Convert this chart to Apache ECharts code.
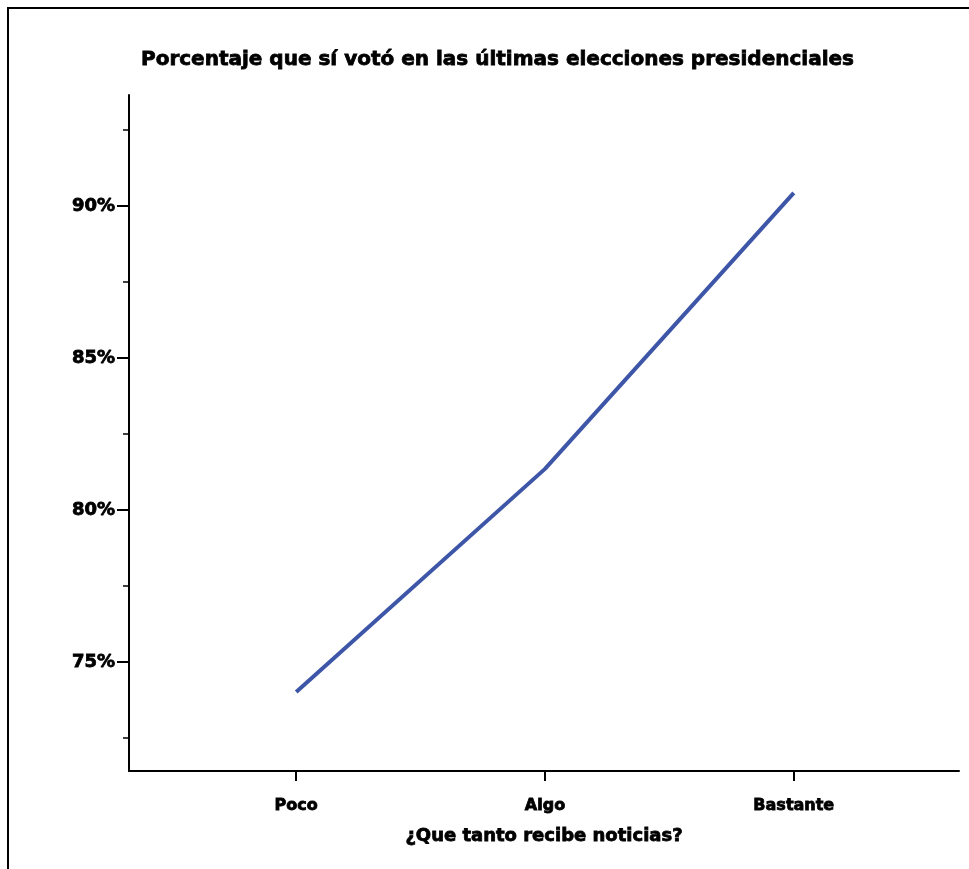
<!DOCTYPE html>
<html>
<head>
<meta charset="utf-8">
<script src="https://cdn.jsdelivr.net/npm/echarts@6/dist/echarts.min.js"></script>
<style>
html,body{margin:0;padding:0;background:#fff;}
#chart{width:969px;height:869px;}
</style>
</head>
<body>
<div id="chart"></div>
<script>
const titleText = 'Porcentaje que sí votó en las últimas elecciones presidenciales';
const xAxisTitle = '¿Que tanto recibe noticias?';
const categories = ['Poco', 'Algo', 'Bastante'];
const values = [74.01, 81.35, 90.43];
const yMajorTicks = [75, 80, 85, 90];
const yMinorTicks = [72.5, 77.5, 82.5, 87.5, 92.5];
const yMin = 71.41, yMax = 93.65;
const xMin = 0.328, xMax = 3.664;

const FONT = 'DejaVu Sans';
const heavy = {fontFamily: FONT, fontWeight: 'bold', color: '#000', textBorderColor: '#000', textBorderWidth: 0.8};
const chart = echarts.init(document.getElementById('chart'), null, {renderer: 'canvas'});
const catPos = categories.map((c, i) => i + 1);
const seriesData = values.map((v, i) => [catPos[i], v]);

chart.setOption({
  animation: false,
  backgroundColor: '#fff',
  title: {
    text: titleText,
    left: 136, top: 45,
    textStyle: Object.assign({}, heavy, {fontSize: 20})
  },
  graphic: [{
    type: 'rect', shape: {x: 8, y: 8, width: 1200, height: 1200},
    style: {fill: null, stroke: '#000', lineWidth: 2}, silent: true
  }],
  grid: {left: 129, right: 10, top: 95, bottom: 98},
  xAxis: {
    type: 'value', min: xMin, max: xMax,
    name: xAxisTitle, nameLocation: 'middle', nameGap: 56,
    nameTextStyle: Object.assign({}, heavy, {fontSize: 18}),
    splitLine: {show: false},
    axisLine: {show: true, onZero: false, lineStyle: {color: '#000', width: 2}},
    axisTick: {show: true, customValues: catPos, length: 10, lineStyle: {color: '#000', width: 2}},
    axisLabel: Object.assign({customValues: catPos, margin: 27, fontSize: 16,
      formatter: v => categories[Math.round(v) - 1] || ''}, heavy)
  },
  yAxis: [{
    type: 'value', min: yMin, max: yMax,
    splitLine: {show: false},
    axisLine: {show: true, lineStyle: {color: '#000', width: 2}},
    axisTick: {show: true, customValues: yMajorTicks, length: 12, lineStyle: {color: '#000', width: 2}},
    axisLabel: Object.assign({customValues: yMajorTicks, margin: 14, fontSize: 18,
      formatter: v => Math.round(v) + '%'}, heavy)
  }, {
    type: 'value', min: yMin, max: yMax, position: 'left',
    splitLine: {show: false},
    axisLine: {show: false},
    axisTick: {show: true, customValues: yMinorTicks, length: 6, lineStyle: {color: '#000', width: 1.5}},
    axisLabel: {show: false}
  }],
  series: [{
    type: 'line', data: seriesData, symbol: 'none',
    lineStyle: {color: '#3E56A8', width: 4}
  }]
});
</script>
</body>
</html>
